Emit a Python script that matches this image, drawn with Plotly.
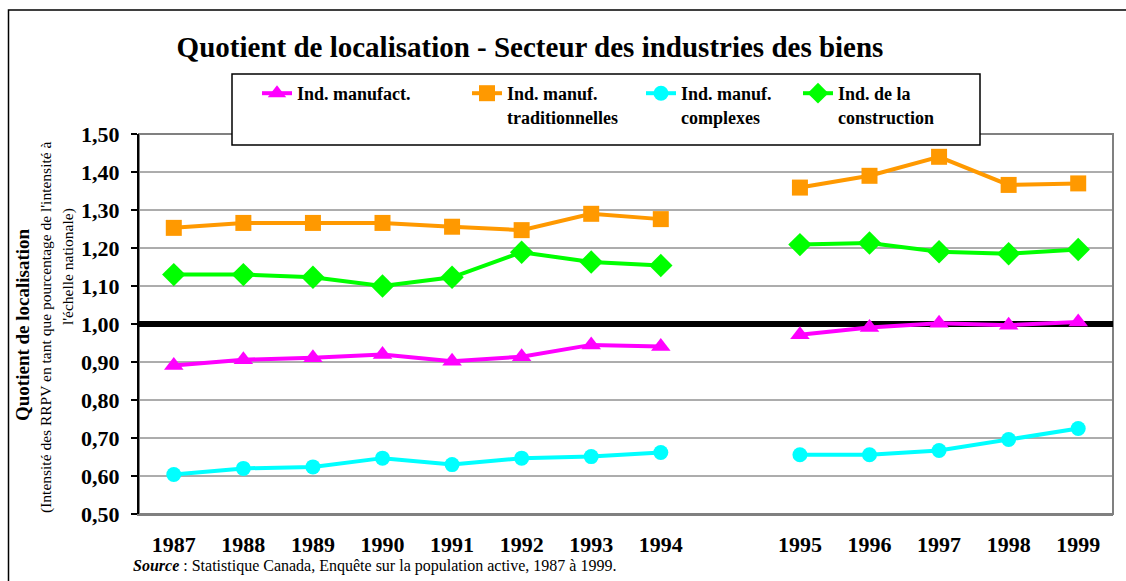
import plotly.graph_objects as go

# ---------------- data ----------------
categories = ["1987", "1988", "1989", "1990", "1991", "1992", "1993", "1994", " ",
              "1995", "1996", "1997", "1998", "1999"]
manufact = [0.891, 0.906, 0.911, 0.920, 0.902, 0.914, 0.945, 0.941, None,
            0.972, 0.991, 1.002, 0.997, 1.005]
traditionnelles = [1.253, 1.266, 1.266, 1.266, 1.256, 1.247, 1.290, 1.276, None,
                   1.359, 1.390, 1.440, 1.366, 1.370]
complexes = [0.604, 0.620, 0.624, 0.647, 0.630, 0.647, 0.651, 0.662, None,
             0.656, 0.656, 0.667, 0.696, 0.725]
construction = [1.130, 1.130, 1.123, 1.100, 1.123, 1.189, 1.163, 1.154, None,
                1.209, 1.213, 1.190, 1.185, 1.196]
y_tick_values = [0.5, 0.6, 0.7, 0.8, 0.9, 1.0, 1.1, 1.2, 1.3, 1.4, 1.5]
y_tick_labels = ["0,50", "0,60", "0,70", "0,80", "0,90", "1,00", "1,10", "1,20",
                 "1,30", "1,40", "1,50"]
reference_level = 1.0

series_names = ["Ind. manufact.", "Ind. manuf.<br>traditionnelles",
                "Ind. manuf.<br>complexes", "Ind. de la<br>construction"]

# ---------------- layout helpers ----------------
W, H = 1126, 581
PLOT_L, PLOT_R, PLOT_T, PLOT_B = 139, 1113, 134, 514   # screen pixels
ML = PLOT_L
MR = W - PLOT_R
MT = PLOT_T
MB = H - PLOT_B
PW = W - ML - MR
PH = H - MT - MB


def px_x(p):
    return (p - PLOT_L) / PW


def px_y(p):
    return (PLOT_B - p) / PH


SERIF = "Liberation Serif"

fig = go.Figure()

styles = [
    (manufact, "#FF00FF", "triangle-up", 17, "legend"),
    (traditionnelles, "#FF9900", "square", 16, "legend2"),
    (complexes, "#00FFFF", "circle", 15, "legend3"),
    (construction, "#00FF00", "diamond", 18, "legend4"),
]

for (vals, color, sym, size, leg), name in zip(styles, series_names):
    fig.add_trace(go.Scatter(
        x=categories, y=vals, name=name, mode="lines+markers",
        line=dict(color=color, width=4),
        marker=dict(color=color, symbol=sym, size=size),
        connectgaps=False, legend=leg, cliponaxis=False,
    ))

legend_lefts = [257, 467, 641, 798]
legend_top = 75
leg_common = dict(bgcolor="rgba(0,0,0,0)", borderwidth=0, xanchor="left",
                  yanchor="top", valign="top", itemwidth=30,
                  font=dict(family=SERIF, size=18, color="black", weight="bold"))

layout_legends = {}
for i, lx in enumerate(legend_lefts):
    key = "legend" if i == 0 else f"legend{i+1}"
    layout_legends[key] = dict(x=px_x(lx), y=px_y(legend_top), **leg_common)

shapes = [
    # outer frame
    dict(type="rect", xref="paper", yref="paper",
         x0=px_x(8.5), x1=px_x(1160), y0=px_y(10), y1=px_y(620),
         line=dict(color="black", width=1.5), layer="below"),
]
# horizontal grid lines (drawn as shapes so the 1.00 line sits on top)
for v in y_tick_values:
    shapes.append(dict(type="line", xref="x domain", yref="y", x0=0, x1=1,
                       y0=v, y1=v, line=dict(color="#5a5a5a", width=1),
                       layer="below"))
shapes += [
    # plot area frame (top/right gray)
    dict(type="rect", xref="x domain", yref="y domain", x0=0, x1=1, y0=0, y1=1,
         line=dict(color="#808080", width=2), layer="below"),
    # reference line at 1.00
    dict(type="line", xref="x domain", yref="y", x0=0, x1=1,
         y0=reference_level, y1=reference_level,
         line=dict(color="black", width=6), layer="below"),
    # legend box
    dict(type="rect", xref="paper", yref="paper",
         x0=px_x(232), x1=px_x(980), y0=px_y(145), y1=px_y(74),
         fillcolor="white", line=dict(color="black", width=1.5), layer="above"),
]

annotations = [
    dict(text="Quotient de localisation", textangle=-90, showarrow=False,
         xref="paper", yref="paper", x=px_x(22), y=px_y(325),
         xanchor="center", yanchor="middle",
         font=dict(family=SERIF, size=19, color="black", weight="bold")),
    dict(text="(Intensité des RRPV en tant que pourcentage de l'intensité à",
         textangle=-90, showarrow=False,
         xref="paper", yref="paper", x=px_x(46), y=px_y(327),
         xanchor="center", yanchor="middle",
         font=dict(family=SERIF, size=15.5, color="black")),
    dict(text="l'échelle nationale)",
         textangle=-90, showarrow=False,
         xref="paper", yref="paper", x=px_x(68), y=px_y(267),
         xanchor="center", yanchor="middle",
         font=dict(family=SERIF, size=15.5, color="black")),
    dict(text="<b><i>Source</i></b> : Statistique Canada, Enquête sur la population active, 1987 à 1999.",
         showarrow=False, xref="paper", yref="paper",
         x=px_x(131), y=px_y(566), xanchor="left", yanchor="middle",
         font=dict(family=SERIF, size=16, color="black")),
]

fig.update_layout(
    width=W, height=H,
    margin=dict(l=ML, r=MR, t=MT, b=MB, autoexpand=False),
    paper_bgcolor="white", plot_bgcolor="rgba(0,0,0,0)",
    hovermode=False,
    title=dict(text="Quotient de localisation - Secteur des industries des biens",
               x=530 / W, xanchor="center", xref="container",
               y=1 - 47 / H, yanchor="middle", yref="container",
               font=dict(family=SERIF, size=29, color="black", weight="bold")),
    xaxis=dict(type="category", categoryorder="array", categoryarray=categories,
               range=[-0.5, len(categories) - 0.5],
               showgrid=False, zeroline=False,
               showline=True, linecolor="#808080", linewidth=2,
               ticks="", ticklabelstandoff=10,
               tickfont=dict(family=SERIF, size=22, color="black", weight="bold")),
    yaxis=dict(range=[0.5, 1.5], tickvals=y_tick_values, ticktext=y_tick_labels,
               showgrid=False, zeroline=False,
               showline=True, linecolor="black", linewidth=2,
               ticks="outside", ticklen=6, tickcolor="black", tickwidth=1.5,
               ticklabelstandoff=7,
               tickfont=dict(family=SERIF, size=22, color="black", weight="bold")),
    shapes=shapes,
    annotations=annotations,
    showlegend=True,
    **layout_legends,
)

fig.write_html(
    "out.html",
    config={"displayModeBar": False},
    post_script="document.body.style.margin='0';document.body.style.overflow='hidden';",
)
